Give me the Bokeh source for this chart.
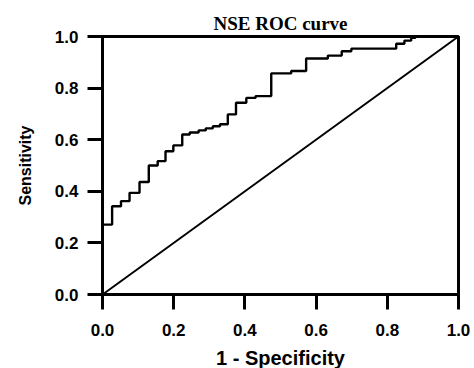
from bokeh.plotting import figure
from bokeh.models import Range1d, FixedTicker, NumeralTickFormatter
from bokeh.embed import file_html
from bokeh.resources import INLINE

# ROC curve data (1 - specificity, sensitivity)
fpr = [0.0, 0.0, 0.027, 0.027, 0.052, 0.052, 0.076, 0.076, 0.104, 0.104,
       0.130, 0.130, 0.155, 0.155, 0.177, 0.177, 0.199, 0.199, 0.224, 0.224,
       0.245, 0.245, 0.270, 0.270, 0.290, 0.290, 0.310, 0.310, 0.330, 0.330,
       0.352, 0.352, 0.375, 0.375, 0.404, 0.404, 0.430, 0.430, 0.474, 0.474,
       0.530, 0.530, 0.572, 0.572, 0.633, 0.633, 0.672, 0.672, 0.699, 0.699,
       0.825, 0.825, 0.848, 0.848, 0.867, 0.867, 0.879, 0.879, 1.0]
tpr = [0.0, 0.271, 0.271, 0.342, 0.342, 0.362, 0.362, 0.394, 0.394, 0.436,
       0.436, 0.500, 0.500, 0.517, 0.517, 0.555, 0.555, 0.578, 0.578, 0.620,
       0.620, 0.628, 0.628, 0.636, 0.636, 0.644, 0.644, 0.652, 0.652, 0.660,
       0.660, 0.698, 0.698, 0.743, 0.743, 0.762, 0.762, 0.769, 0.769, 0.857,
       0.857, 0.866, 0.866, 0.915, 0.915, 0.926, 0.926, 0.943, 0.943, 0.953,
       0.953, 0.972, 0.972, 0.984, 0.984, 0.995, 0.995, 1.0, 1.0]

# reference (chance) line
chance_x = [0.0, 1.0]
chance_y = [0.0, 1.0]

ticks = [0.0, 0.2, 0.4, 0.6, 0.8, 1.0]

p = figure(width=473, height=367, output_backend="svg", toolbar_location=None,
           x_range=Range1d(0, 1), y_range=Range1d(0, 1),
           frame_width=356, frame_height=258,
           min_border_left=102, min_border_right=15, min_border_top=36,
           min_border_bottom=73,
           title="NSE ROC curve")

p.title.align = "center"
p.title.text_font = "Liberation Serif"
p.title.text_font_style = "bold"
p.title.text_font_size = "19px"
p.title.text_color = "black"
p.title.standoff = 6

p.grid.visible = False
p.outline_line_color = "black"
p.outline_line_width = 3
p.outline_line_alpha = 1.0

for ax in (p.xaxis[0], p.yaxis[0]):
    ax.ticker = FixedTicker(ticks=ticks)
    ax.formatter = NumeralTickFormatter(format="0.0")
    ax.axis_line_width = 3
    ax.axis_line_color = "black"
    ax.major_tick_line_width = 3
    ax.major_tick_line_color = "black"
    ax.major_tick_out = 15
    ax.major_tick_in = 0
    ax.minor_tick_line_color = None
    ax.major_label_text_font = "Liberation Sans"
    ax.major_label_text_font_style = "bold"
    ax.major_label_text_font_size = "17px"
    ax.major_label_text_color = "black"
    ax.axis_label_text_font = "Liberation Sans"
    ax.axis_label_text_font_style = "bold"
    ax.axis_label_text_color = "black"

p.xaxis.axis_label = "1 - Specificity"
p.xaxis.axis_label_text_font_size = "20px"
p.xaxis.major_label_standoff = 14
p.xaxis.axis_label_standoff = 8

p.yaxis.axis_label = "Sensitivity"
p.yaxis.axis_label_text_font_size = "16px"
p.yaxis.major_label_standoff = 9
p.yaxis.axis_label_standoff = 18

p.line(chance_x, chance_y, line_color="black", line_width=2)
p.line(fpr, tpr, line_color="black", line_width=2.4)

open("out.html", "w").write(file_html(p, INLINE))
